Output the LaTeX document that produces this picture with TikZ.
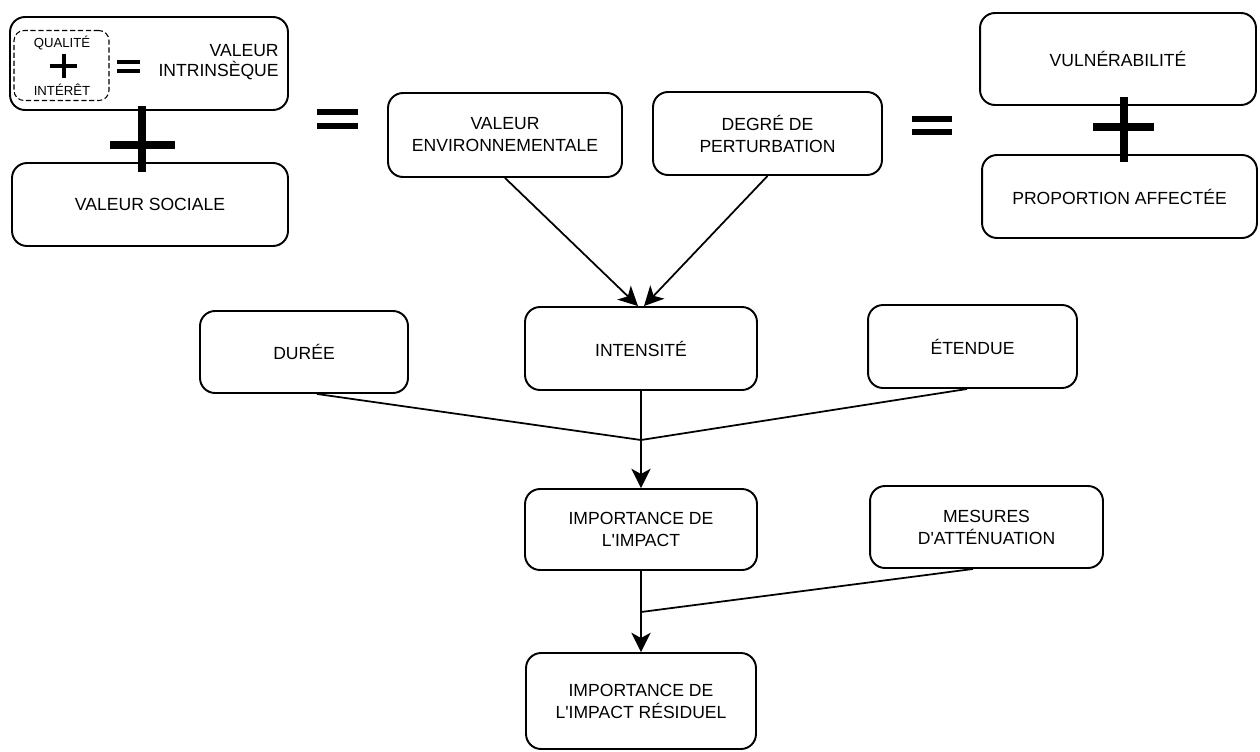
\documentclass[tikz,border=0pt]{standalone}
\usepackage{fontspec}
\setmainfont{Liberation Sans}
\usetikzlibrary{arrows.meta}
\begin{document}
\begin{tikzpicture}[x=0.02cm,y=-0.02cm,
  box/.style={draw, line width=1.1pt, rounded corners=0.3cm, align=center, inner sep=0pt,
    font=\fontsize{10}{12.5}\selectfont},
  conn/.style={line width=1pt},
  arr/.style={line width=1pt, -{Stealth[length=11pt,width=11pt,inset=3pt]}},
  lbl/.style={inner sep=0pt, align=center, font=\fontsize{10}{12.5}\selectfont},
  small/.style={inner sep=0pt, font=\fontsize{7.5}{9}\selectfont},
  bigbar/.style={line width=4.5pt},
  eqbar/.style={line width=3.3pt}
]
\useasboundingbox (0,0) rectangle (1260,751);

% top-left group
\node[box, minimum width=5.56cm, minimum height=1.86cm] (intr) at (149,63.5) {};
\node[draw, line width=0.6pt, rounded corners=0.2cm, dash pattern=on 3pt off 1.5pt,
  minimum width=1.9cm, minimum height=1.4cm, inner sep=0pt] (inner) at (61.5,65.5) {};
\node[small] (qual) at (62,43) {QUALITÉ};
\node[small] (inte) at (62,90) {INTÉRÊT};
\draw[line width=2.5pt] (64,54) -- (64,78);
\draw[line width=2.5pt] (50,66) -- (77,66);
\draw[line width=2.2pt] (117,62) -- (140,62);
\draw[line width=2.2pt] (117,71) -- (140,71);
\node[lbl, align=right, anchor=east, font=\fontsize{10}{11.5}\selectfont] (vint) at (279,62) {VALEUR\\INTRINSÈQUE};

\draw[bigbar] (142,106) -- (142,172);
\draw[bigbar] (110,145) -- (175,145);
\node[box, minimum width=5.52cm, minimum height=1.66cm] (soc) at (150,204.5) {VALEUR SOCIALE};

% middle equals
\draw[eqbar] (317,112) -- (358,112);
\draw[eqbar] (317,126) -- (358,126);

\node[box, minimum width=4.68cm, minimum height=1.68cm] (env) at (505,135) {VALEUR\\ENVIRONNEMENTALE};
\node[box, minimum width=4.58cm, minimum height=1.66cm] (deg) at (767.5,133.5) {DEGRÉ DE\\PERTURBATION};

% right equals
\draw[eqbar] (912,119) -- (952,119);
\draw[eqbar] (912,132) -- (952,132);

\node[box, minimum width=5.52cm, minimum height=1.84cm] (vul) at (1118,59) {VULNÉRABILITÉ};
\draw[bigbar] (1124,97) -- (1124,162);
\draw[bigbar] (1093,127) -- (1154,127);
\node[box, minimum width=5.5cm, minimum height=1.66cm] (prop) at (1119.5,196.5) {PROPORTION AFFECTÉE};

% second row
\node[box, minimum width=4.16cm, minimum height=1.64cm] (dur) at (304,352) {DURÉE};
\node[box, minimum width=4.64cm, minimum height=1.66cm] (int) at (641,348.5) {INTENSITÉ};
\node[box, minimum width=4.18cm, minimum height=1.66cm] (ete) at (972.5,346.5) {ÉTENDUE};

\draw[arr] (env.south) -- ([xshift=-0.06cm]int.north);
\draw[arr] (deg.south) -- ([xshift=0.06cm]int.north);

\coordinate (j1) at (641,440);
\draw[conn] ([xshift=0.26cm]dur.south) -- (j1);
\draw[conn] ([xshift=-0.11cm]ete.south) -- (j1);
\draw[conn] (int.south) -- (j1);

% lower rows
\node[box, minimum width=4.64cm, minimum height=1.62cm] (imp) at (641,529.5) {IMPORTANCE DE\\L\textquotesingle IMPACT};
\node[box, minimum width=4.66cm, minimum height=1.64cm] (mes) at (986.5,527) {MESURES\\D\textquotesingle ATTÉNUATION};
\draw[arr] (j1) -- (imp.north);

\node[box, minimum width=4.6cm, minimum height=1.92cm] (res) at (641,701) {IMPORTANCE DE\\L\textquotesingle IMPACT RÉSIDUEL};

\coordinate (j2) at (641,612);
\draw[conn] (imp.south) -- (j2);
\draw[conn] ([xshift=-0.27cm]mes.south) -- (j2);
\draw[arr] (j2) -- (res.north);
\end{tikzpicture}
\end{document}
